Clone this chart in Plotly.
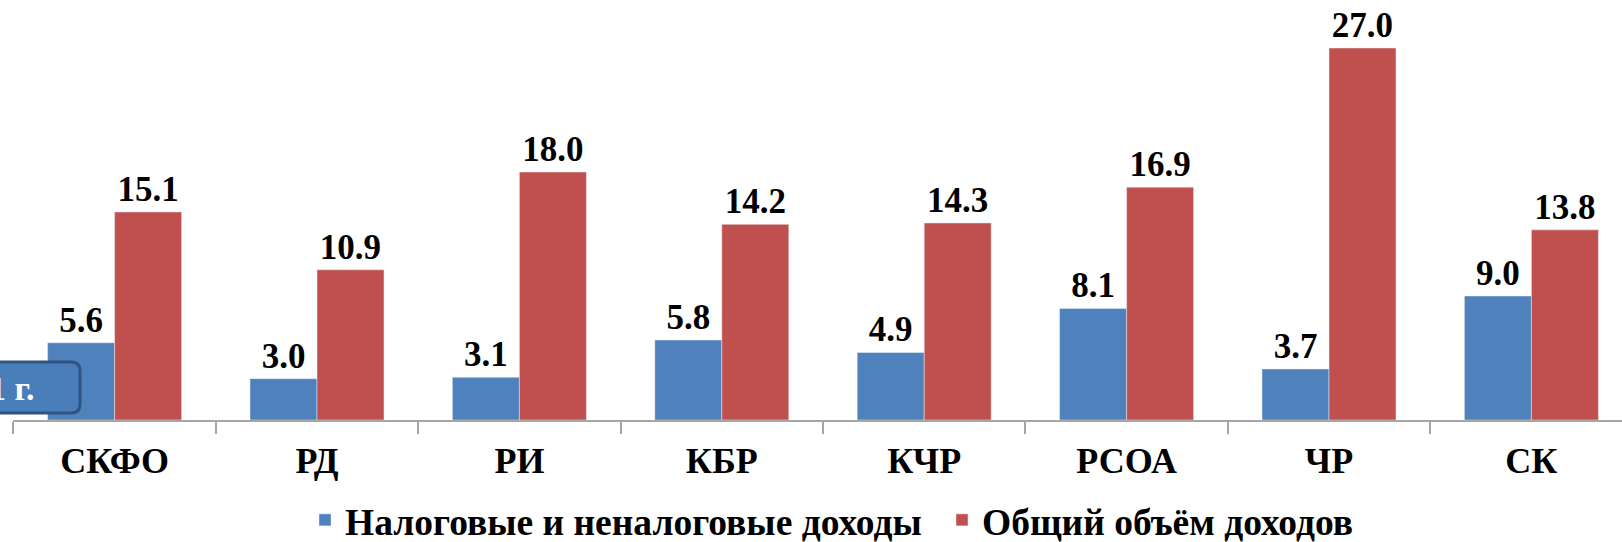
import plotly.graph_objects as go

categories = ["СКФО", "РД", "РИ", "КБР", "КЧР", "РСОА", "ЧР", "СК"]
tax_income = [5.6, 3.0, 3.1, 5.8, 4.9, 8.1, 3.7, 9.0]
total_income = [15.1, 10.9, 18.0, 14.2, 14.3, 16.9, 27.0, 13.8]
series_names = ["Налоговые и неналоговые доходы", "Общий объём доходов"]
badge_text = "1 г."

W, H = 1622, 542
FONT = "Liberation Serif"
BLUE = "#4f81bd"
RED = "#c0504d"

fig = go.Figure()
fig.add_trace(go.Bar(
    x=categories, y=tax_income, name=f"<b>{series_names[0]}</b>", marker_color=BLUE,
    text=[f"<b>{v:.1f}</b>" for v in tax_income], textposition="outside",
    textfont=dict(family=FONT, size=35, color="black"),
    cliponaxis=False,
))
fig.add_trace(go.Bar(
    x=categories, y=total_income, name=f"<b>{series_names[1]}</b>", marker_color=RED,
    text=[f"<b>{v:.1f}</b>" for v in total_income], textposition="outside",
    textfont=dict(family=FONT, size=35, color="black"),
    cliponaxis=False,
))

def px_x(x):
    return x / W

def px_y(y):
    return 1 - y / H

# rounded badge box (partially off-canvas on the left, as in the source)
x0, x1, y0, y1, r = -20, 80, 362, 413, 9
path = (
    f"M {px_x(x0)},{px_y(y0)} L {px_x(x1 - r)},{px_y(y0)} "
    f"Q {px_x(x1)},{px_y(y0)} {px_x(x1)},{px_y(y0 + r)} "
    f"L {px_x(x1)},{px_y(y1 - r)} "
    f"Q {px_x(x1)},{px_y(y1)} {px_x(x1 - r)},{px_y(y1)} "
    f"L {px_x(x0)},{px_y(y1)} Z"
)
fig.add_shape(type="path", path=path, xref="paper", yref="paper",
              fillcolor="#4a7ebb", line=dict(color="#2f5482", width=3), layer="above")
fig.add_annotation(text=f"<b>{badge_text}</b>", xref="paper", yref="paper",
                   x=px_x(37), y=px_y(388), xanchor="right", yanchor="middle",
                   showarrow=False,
                   font=dict(family=FONT, size=34, color="white"))

y_top = 420 / (372 / 27.0)
fig.update_layout(
    width=W, height=H,
    margin=dict(l=0, r=0, t=0, b=0, autoexpand=False),
    paper_bgcolor="white", plot_bgcolor="white",
    font=dict(family=FONT),
    barmode="group", bargap=0.338, bargroupgap=0,
    showlegend=True,
    legend=dict(orientation="h", x=px_x(305), y=px_y(520), xanchor="left", yanchor="middle",
                font=dict(family=FONT, size=37.5, color="black"),
                itemwidth=30, tracegroupgap=0,
                entrywidth=592, entrywidthmode="pixels"),
    xaxis=dict(
        domain=[13.4 / W, 1], range=[-0.5, -0.5 + (W - 13.4) / 202.4],
        automargin=False,
        showline=True, linecolor="#a6a6a6", linewidth=2,
        ticks="outside", ticklen=12, tickwidth=2, tickcolor="#a6a6a6",
        tickson="boundaries", ticklabelstandoff=8,
        tickfont=dict(family=FONT, size=36, color="black", weight="bold"),
        showgrid=False, zeroline=False, fixedrange=True,
    ),
    yaxis=dict(
        domain=[1 - 420 / H, 1], range=[0, y_top], automargin=False,
        visible=False, showgrid=False, zeroline=False, fixedrange=True,
    ),
)

fig.write_html("out.html", config={"displayModeBar": False},
               post_script="document.body.style.margin='0';document.body.style.overflow='hidden';")
